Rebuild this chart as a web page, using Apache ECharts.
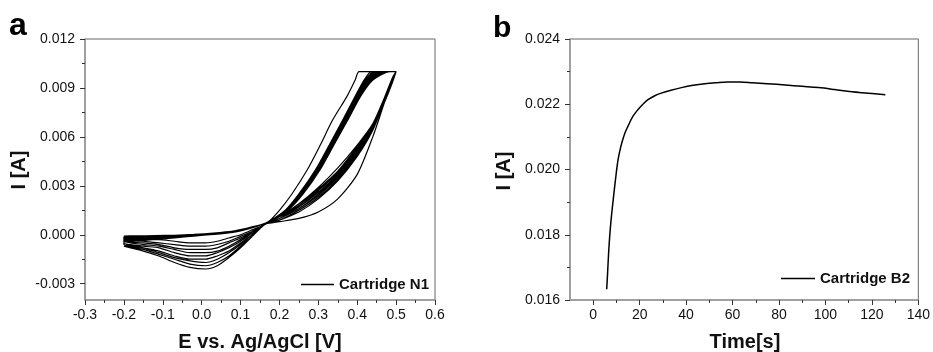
<!DOCTYPE html>
<html>
<head>
<meta charset="utf-8">
<script src="https://cdn.jsdelivr.net/npm/echarts@6/dist/echarts.min.js"></script>
<style>
  html, body { margin: 0; padding: 0; background: #fff; }
  #chart { width: 933px; height: 352px; }
</style>
</head>
<body>
<div id="chart"></div>
<script>
// ---------- Panel a: cyclic voltammograms (Cartridge N1) ----------
// Each cycle: forward sweep at low potential, rising branch, clipped top,
// falling branch, and the cathodic return sweep back to -0.2 V.
const fwdE = [-0.2, -0.17, -0.12, -0.07, -0.02, 0.03, 0.08, 0.12];
const fwdI = [
  [-0.00008, -0.00007, -0.00005, -0.00003, 0.00002, 0.00010, 0.00022, 0.00042],
  [-0.00013, -0.00011, -0.00008, -0.00005, 0.00000, 0.00009, 0.00021, 0.00041],
  [-0.00018, -0.00015, -0.00011, -0.00007, -0.00001, 0.00008, 0.00020, 0.00040],
  [-0.00023, -0.00019, -0.00014, -0.00009, -0.00002, 0.00007, 0.00019, 0.00040],
  [-0.00028, -0.00023, -0.00017, -0.00011, -0.00003, 0.00006, 0.00018, 0.00039],
  [-0.00033, -0.00027, -0.00020, -0.00013, -0.00005, 0.00005, 0.00017, 0.00038],
  [-0.00038, -0.00031, -0.00023, -0.00015, -0.00006, 0.00004, 0.00016, 0.00037],
  [-0.00043, -0.00035, -0.00026, -0.00017, -0.00007, 0.00003, 0.00015, 0.00036],
  [-0.00048, -0.00039, -0.00029, -0.00019, -0.00008, 0.00002, 0.00014, 0.00035]
];

const crossE = 0.166;
const crossI = [0.00068, 0.00069, 0.00070, 0.00070, 0.00071, 0.00071, 0.00072, 0.00072, 0.00073];

const riseE = [0.2, 0.25, 0.3, 0.35, 0.4, 0.44, 0.47, 0.49, 0.5];
const riseI = [
  [0.0008, 0.0010, 0.0014, 0.0022, 0.0037, 0.0060, 0.0081, 0.0094, 0.0100],
  [0.0009, 0.0014, 0.0022, 0.0033, 0.0048, 0.0064, 0.0082, 0.0094, 0.0100],
  [0.0009, 0.0015, 0.0023, 0.0034, 0.0049, 0.0065, 0.0082, 0.0094, 0.0100],
  [0.0010, 0.0016, 0.0024, 0.0035, 0.0050, 0.0065, 0.0081, 0.0093, 0.0100],
  [0.0010, 0.0016, 0.0025, 0.0036, 0.0051, 0.0066, 0.0082, 0.0094, 0.0100],
  [0.0010, 0.0017, 0.0026, 0.0037, 0.0052, 0.0066, 0.0083, 0.0095, 0.0100],
  [0.0011, 0.0017, 0.0027, 0.0038, 0.0053, 0.0067, 0.0083, 0.0095, 0.0100],
  [0.0011, 0.0018, 0.0028, 0.0039, 0.0054, 0.0067, 0.0084, 0.0096, 0.0100],
  [0.0011, 0.0019, 0.0029, 0.0041, 0.0055, 0.0068, 0.0084, 0.0096, 0.0100]
];

// Falling branch: potential read at fixed current levels
const fallI = [0.0100, 0.0095, 0.0085, 0.0070, 0.0055, 0.0040, 0.0025, 0.0015];
const fallE = [
  [0.405, 0.395, 0.374, 0.336, 0.305, 0.272, 0.232, 0.200],
  [0.437, 0.418, 0.395, 0.362, 0.328, 0.293, 0.250, 0.215],
  [0.445, 0.421, 0.397, 0.364, 0.330, 0.295, 0.252, 0.216],
  [0.452, 0.424, 0.399, 0.366, 0.332, 0.297, 0.254, 0.217],
  [0.458, 0.427, 0.401, 0.368, 0.334, 0.299, 0.256, 0.218],
  [0.464, 0.430, 0.403, 0.369, 0.335, 0.300, 0.257, 0.219],
  [0.470, 0.433, 0.405, 0.371, 0.337, 0.302, 0.258, 0.220],
  [0.477, 0.437, 0.407, 0.373, 0.339, 0.303, 0.259, 0.221],
  [0.484, 0.441, 0.409, 0.375, 0.340, 0.305, 0.261, 0.222]
];

const redE = [0.13, 0.1, 0.07, 0.04, 0.01, -0.03, -0.07, -0.11, -0.15, -0.2];
const redI = [
  [0.0003, 0.0000, -0.0002, -0.0004, -0.0005, -0.0005, -0.0004, -0.0003, -0.0003, -0.0002],
  [0.0002, -0.0001, -0.0004, -0.0006, -0.0007, -0.0007, -0.0006, -0.0005, -0.0004, -0.0003],
  [0.0002, -0.0002, -0.0005, -0.0008, -0.0009, -0.0009, -0.0008, -0.0006, -0.0005, -0.0004],
  [0.0001, -0.0003, -0.0007, -0.0010, -0.0011, -0.0011, -0.0009, -0.0007, -0.0006, -0.0004],
  [0.0001, -0.0004, -0.0008, -0.0011, -0.0013, -0.0013, -0.0011, -0.0008, -0.0007, -0.0005],
  [0.0000, -0.0005, -0.0010, -0.0013, -0.0015, -0.0015, -0.0013, -0.0010, -0.0008, -0.0005],
  [0.0000, -0.0006, -0.0011, -0.0015, -0.0017, -0.0016, -0.0014, -0.0011, -0.0008, -0.0006],
  [-0.0001, -0.0007, -0.0013, -0.0017, -0.0019, -0.0018, -0.0015, -0.0012, -0.0009, -0.0006],
  [-0.0001, -0.0008, -0.0014, -0.0019, -0.0021, -0.0020, -0.0017, -0.0013, -0.0010, -0.0007]
];

const aYTicks = [-0.003, 0.000, 0.003, 0.006, 0.009, 0.012];
const aYMinor = [-0.0015, 0.0015, 0.0045, 0.0075, 0.0105];

// ---------- Panel b: chronoamperometry (Cartridge B2) ----------
const bTime = [5.8, 6.1, 6.6, 7.2, 7.9, 8.6, 9.6, 10.7, 11.8, 12.9, 14.0, 15.0, 17.0, 19.3,
  21.5, 23.6, 26.5, 29.3, 33.5, 38.0, 43.0, 48.0, 53.0, 58.0, 63.0, 68.5, 75.0, 82.8,
  90.0, 97.0, 104.0, 111.4, 118.5, 125.8];
const bCurrent = [0.01633, 0.01670, 0.01740, 0.01805, 0.01860, 0.01907, 0.01970, 0.02030,
  0.02068, 0.02096, 0.02118, 0.02133, 0.02162, 0.02184, 0.02201, 0.02214, 0.02226, 0.02234,
  0.02243, 0.02251, 0.02258, 0.02263, 0.02266, 0.02268, 0.02268, 0.02266, 0.02263, 0.02259,
  0.02255, 0.02251, 0.02245, 0.02238, 0.02234, 0.02229];
const bXTicks = [0, 20, 40, 60, 80, 100, 120, 140];
const bXMinor = [10, 30, 50, 70, 90, 110, 130];

// Assemble the voltammogram path, cycle after cycle
const cvData = [];
for (let c = 0; c < fwdI.length; c++) {
  fwdE.forEach((e, k) => cvData.push([e, fwdI[c][k]]));
  cvData.push([crossE, crossI[c]]);
  riseE.forEach((e, k) => cvData.push([e, riseI[c][k]]));
  fallI.forEach((i, k) => cvData.push([fallE[c][k], i]));
  cvData.push([crossE, crossI[c]]);
  redE.forEach((e, k) => cvData.push([e, redI[c][k]]));
}
const caData = bTime.map((t, k) => [t, bCurrent[k]]);

const FONT = '"Liberation Sans", Arial, Helvetica, sans-serif';
const AXIS_GRAY = '#9a9a9a';
const TICK = '#333';
const LABEL = { color: '#111', fontSize: 14, fontFamily: FONT, margin: 10 };

function axisBase(extra) {
  return Object.assign({
    type: 'value',
    axisLine: { show: true, onZero: false, lineStyle: { color: AXIS_GRAY, width: 1.5 } },
    axisTick: { show: true, length: 5, lineStyle: { color: TICK, width: 1 } },
    minorTick: { show: false },
    splitLine: { show: false },
    axisLabel: Object.assign({}, LABEL)
  }, extra);
}
// Overlay axis that only carries the short in-between ticks
function minorAxis(extra, values) {
  return Object.assign({
    type: 'value',
    axisLine: { show: false, onZero: false },
    splitLine: { show: false },
    axisLabel: { show: false },
    axisTick: { show: true, length: 3, customValues: values, lineStyle: { color: TICK, width: 1 } }
  }, extra);
}

const chart = echarts.init(document.getElementById('chart'), null, { renderer: 'canvas' });
chart.setOption({
  backgroundColor: '#fff',
  animation: false,
  grid: [
    { left: 85, top: 39, width: 350, height: 261, show: true, borderColor: '#666', borderWidth: 1, backgroundColor: 'transparent' },
    { left: 570, top: 39, width: 350, height: 261, show: true, borderColor: '#666', borderWidth: 1, backgroundColor: 'transparent' }
  ],
  xAxis: [
    axisBase({
      gridIndex: 0, min: -0.3, max: 0.6, interval: 0.1, position: 'bottom',
      minorTick: { show: true, splitNumber: 2, length: 3, lineStyle: { color: TICK } },
      axisLabel: Object.assign({}, LABEL, { margin: 8, formatter: v => v.toFixed(1) })
    }),
    axisBase({
      gridIndex: 1, min: -10, max: 140, position: 'bottom',
      axisTick: { show: true, length: 5, customValues: bXTicks, lineStyle: { color: TICK } },
      axisLabel: Object.assign({}, LABEL, { margin: 8, customValues: bXTicks, formatter: v => String(v) })
    }),
    minorAxis({ gridIndex: 1, min: -10, max: 140, position: 'bottom' }, bXMinor)
  ],
  yAxis: [
    axisBase({
      gridIndex: 0, min: -0.004, max: 0.012, position: 'left',
      axisTick: { show: true, length: 5, customValues: aYTicks, lineStyle: { color: TICK } },
      axisLabel: Object.assign({}, LABEL, { customValues: aYTicks, formatter: v => v.toFixed(3) })
    }),
    minorAxis({ gridIndex: 0, min: -0.004, max: 0.012, position: 'left' }, aYMinor),
    axisBase({
      gridIndex: 1, min: 0.016, max: 0.024, interval: 0.002, position: 'left',
      minorTick: { show: true, splitNumber: 2, length: 3, lineStyle: { color: TICK } },
      axisLabel: Object.assign({}, LABEL, { formatter: v => v.toFixed(3) })
    })
  ],
  legend: [
    {
      data: ['Cartridge N1'], left: 296, top: 272, icon: 'rect', itemWidth: 33, itemHeight: 1.4,
      textStyle: { fontFamily: FONT, fontSize: 15, fontWeight: 'bold', color: '#111' }
    },
    {
      data: ['Cartridge B2'], left: 776, top: 266, icon: 'rect', itemWidth: 34, itemHeight: 1.4,
      textStyle: { fontFamily: FONT, fontSize: 15, fontWeight: 'bold', color: '#111' }
    }
  ],
  series: [
    {
      name: 'Cartridge N1', type: 'line', xAxisIndex: 0, yAxisIndex: 0,
      data: cvData, symbol: 'none', smooth: 0.25,
      lineStyle: { color: '#000', width: 1.2 }, itemStyle: { color: '#000' }
    },
    {
      name: 'Cartridge B2', type: 'line', xAxisIndex: 1, yAxisIndex: 2,
      data: caData, symbol: 'none', smooth: 0.35,
      lineStyle: { color: '#000', width: 1.5 }, itemStyle: { color: '#000' }
    }
  ],
  graphic: [
    { type: 'text', left: 9, top: 10, style: { text: 'a', font: 'bold 32px ' + FONT, fill: '#000' } },
    { type: 'text', left: 493, top: 14, style: { text: 'b', font: 'bold 30px ' + FONT, fill: '#000' } },
    { type: 'text', x: 260, y: 342, style: { text: 'E vs. Ag/AgCl [V]', font: 'bold 20px ' + FONT,
      fill: '#111', align: 'center', verticalAlign: 'middle' } },
    { type: 'text', x: 745, y: 342, style: { text: 'Time[s]', font: 'bold 20px ' + FONT,
      fill: '#111', align: 'center', verticalAlign: 'middle' } },
    { type: 'text', x: 19, y: 170, rotation: Math.PI / 2, style: { text: 'I [A]', font: 'bold 20px ' + FONT,
      fill: '#111', align: 'center', verticalAlign: 'middle' } },
    { type: 'text', x: 504, y: 171, rotation: Math.PI / 2, style: { text: 'I [A]', font: 'bold 20px ' + FONT,
      fill: '#111', align: 'center', verticalAlign: 'middle' } }
  ]
});
</script>
</body>
</html>
